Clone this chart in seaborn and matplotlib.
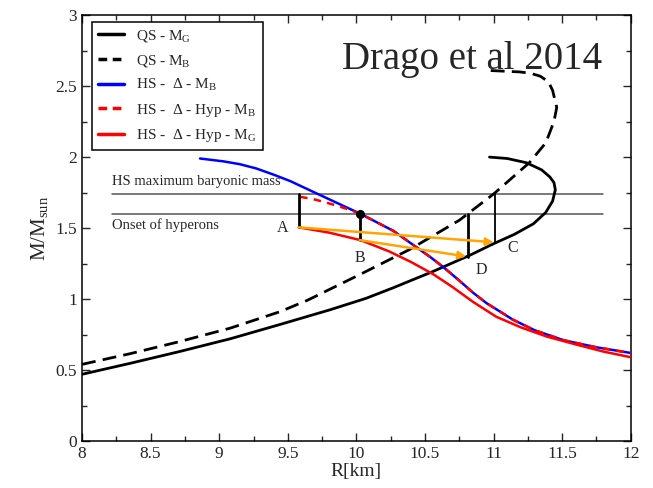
import numpy as np
import pandas as pd
import seaborn as sns
import matplotlib
matplotlib.use("Agg")
import matplotlib.pyplot as plt
from matplotlib.ticker import MultipleLocator
from matplotlib.lines import Line2D

sns.set_style("ticks")
plt.rcParams["font.family"] = ["Liberation Serif", "DejaVu Serif"]
plt.rcParams["mathtext.fontset"] = "custom"
plt.rcParams["mathtext.rm"] = "Liberation Serif"
plt.rcParams["mathtext.it"] = "Liberation Serif:italic"

# --- data ---
qs_mg_r = [8.0, 8.35, 8.71, 9.08, 9.44, 9.81, 10.07, 10.27, 10.56, 10.83, 11.0, 11.15,
           11.29, 11.38, 11.43, 11.45, 11.44, 11.41, 11.35, 11.24, 11.1, 10.97]
qs_mg_m = [0.47, 0.547, 0.63, 0.72, 0.82, 0.925, 1.005, 1.08, 1.195, 1.31, 1.39, 1.455,
           1.53, 1.61, 1.69, 1.77, 1.82, 1.86, 1.91, 1.96, 1.99, 2.00]

qs_mb_r = [8.0, 8.35, 8.71, 9.08, 9.44, 9.64, 10.03, 10.39, 10.75, 11.0, 11.26, 11.38,
           11.44, 11.46, 11.43, 11.40, 11.34, 11.27, 11.19, 10.97]
qs_mb_m = [0.54, 0.615, 0.70, 0.795, 0.91, 0.99, 1.175, 1.35, 1.555, 1.74, 1.96, 2.10,
           2.25, 2.35, 2.47, 2.53, 2.57, 2.59, 2.60, 2.61]

hs_mb_r = [8.86, 9.03, 9.15, 9.27, 9.4, 9.52, 9.63, 9.73, 9.83, 9.93, 10.03, 10.15,
           10.27, 10.43, 10.54, 10.64, 10.75, 10.85, 10.95, 11.05, 11.14, 11.3, 11.51,
           11.75, 12.0]
hs_mb_m = [1.99, 1.97, 1.95, 1.92, 1.875, 1.83, 1.78, 1.735, 1.69, 1.645, 1.60, 1.54,
           1.48, 1.37, 1.295, 1.22, 1.13, 1.045, 0.97, 0.91, 0.855, 0.78, 0.71,
           0.66, 0.62]

hyp_mb_r = [9.59, 9.68, 9.76, 9.85, 9.93, 10.03, 10.15, 10.27, 10.43, 10.54, 10.64,
            10.75, 10.85, 10.95, 11.05, 11.14, 11.3, 11.51, 11.75, 12.0]
hyp_mb_m = [1.72, 1.705, 1.685, 1.66, 1.635, 1.60, 1.54, 1.48, 1.37, 1.295, 1.22,
            1.13, 1.045, 0.97, 0.91, 0.855, 0.78, 0.71, 0.66, 0.62]

hyp_mg_r = [9.58, 9.8, 10.03, 10.24, 10.40, 10.56, 10.70, 10.85, 11.02, 11.2, 11.39,
            11.6, 11.8, 12.0]
hyp_mg_m = [1.505, 1.468, 1.415, 1.335, 1.26, 1.175, 1.085, 0.98, 0.875, 0.80, 0.735,
            0.68, 0.63, 0.59]

hline_m = [1.74, 1.60]
hline_r = [8.22, 11.8]
hline_text = ["HS maximum baryonic mass", "Onset of hyperons"]
hline_text_m = [1.825, 1.52]

# vertical bars: R, bottom M, top M, width
vbar_r = [9.58, 10.025, 10.815, 11.01]
vbar_lo = [1.505, 1.415, 1.298, 1.40]
vbar_hi = [1.74, 1.60, 1.60, 1.74]
vbar_lw = [2.0, 2.0, 2.0, 1.3]

# points A, B, C, D and their labels
pt_names = ["A", "B", "C", "D"]
pt_r = [9.58, 10.025, 11.0, 10.8]
pt_m = [1.505, 1.415, 1.40, 1.30]
lab_r = [9.46, 10.025, 11.14, 10.91]
lab_m = [1.50, 1.287, 1.357, 1.204]
arrows = [("A", "C"), ("B", "D")]

onset_r, onset_m = 10.025, 1.60

fig, ax = plt.subplots(figsize=(6.53, 4.88), dpi=100)
fig.subplots_adjust(left=0.1256, right=0.966, bottom=0.0963, top=0.969)

for m in hline_m:
    ax.plot(hline_r, [m, m], color="#555555", lw=1.1, zorder=1)
for txt, tm in zip(hline_text, hline_text_m):
    ax.text(hline_r[0], tm, txt, fontsize=10.5, va="center", ha="left")

sns.lineplot(x=qs_mg_r, y=qs_mg_m, sort=False, estimator=None, color="black",
             lw=2, ax=ax, zorder=3)
sns.lineplot(x=qs_mb_r, y=qs_mb_m, sort=False, estimator=None, color="black",
             lw=2, linestyle=(0, (5, 2.6)), ax=ax, zorder=3)
sns.lineplot(x=hs_mb_r, y=hs_mb_m, sort=False, estimator=None, color="blue",
             lw=1.8, ax=ax, zorder=3)
sns.lineplot(x=hyp_mb_r, y=hyp_mb_m, sort=False, estimator=None, color="red",
             lw=1.8, linestyle=(0, (3, 2.5)), ax=ax, zorder=4)
sns.lineplot(x=hyp_mg_r, y=hyp_mg_m, sort=False, estimator=None, color="red",
             lw=1.8, ax=ax, zorder=3)

for r, lo, hi, w in zip(vbar_r, vbar_lo, vbar_hi, vbar_lw):
    ax.plot([r, r], [lo, hi], color="black", lw=w, zorder=5)

pts = {n: (r, m) for n, r, m in zip(pt_names, pt_r, pt_m)}
for a, b in arrows:
    ax.annotate("", xy=pts[b], xytext=pts[a],
                arrowprops=dict(arrowstyle="-|>", color="#FFA500", lw=1.8,
                                mutation_scale=11, shrinkA=0, shrinkB=0),
                zorder=6)
for n, r, m in zip(pt_names, lab_r, lab_m):
    ax.text(r, m, n, fontsize=11.5, ha="center", va="center")

ax.plot([onset_r], [onset_m], "o", color="black", ms=5.5, zorder=7)

ax.text(10.84, 2.62, "Drago et al 2014", fontsize=28, ha="center", va="baseline")

ax.set_xlim(8, 12)
ax.set_ylim(0, 3)
ax.xaxis.set_minor_locator(MultipleLocator(0.25))
ax.yaxis.set_minor_locator(MultipleLocator(0.25))
ax.set_xticks(np.arange(8, 12.01, 0.5))
ax.set_xticklabels(["8", "8.5", "9", "9.5", "10", "10.5", "11", "11.5", "12"])
ax.set_yticks(np.arange(0, 3.01, 0.5))
ax.set_yticklabels(["0", "0.5", "1", "1.5", "2", "2.5", "3"])
ax.tick_params(which="both", direction="in", top=True, right=True, labelsize=12.5,
               width=1)
ax.tick_params(which="major", length=6)
ax.tick_params(which="minor", length=3.5)
for s in ax.spines.values():
    s.set_linewidth(1.1)
    s.set_color("black")

ax.set_xlabel("R[km]", fontsize=14, labelpad=1)
ax.set_ylabel(r"M/M$_\mathrm{sun}$", fontsize=15)

handles = [
    Line2D([], [], color="black", lw=2.5),
    Line2D([], [], color="black", lw=2.5, linestyle=(0, (2.5, 1.6))),
    Line2D([], [], color="blue", lw=2.5),
    Line2D([], [], color="red", lw=2.5, linestyle=(0, (2.5, 1.6))),
    Line2D([], [], color="red", lw=2.5),
]
labels = [r"QS - M$_\mathrm{G}$", r"QS - M$_\mathrm{B}$", r"HS -  Δ - M$_\mathrm{B}$",
          r"HS -  Δ - Hyp - M$_\mathrm{B}$", r"HS -  Δ - Hyp - M$_\mathrm{G}$"]
leg = ax.legend(handles, labels, loc="upper left", bbox_to_anchor=(0.0177, 0.9836),
                borderaxespad=0, fontsize=11, frameon=True, fancybox=False,
                edgecolor="black", framealpha=1, handlelength=1.7, handletextpad=0.8,
                labelspacing=0.55, borderpad=0.4)
leg.get_frame().set_linewidth(1.1)

fig.savefig("out.png", dpi=100)
